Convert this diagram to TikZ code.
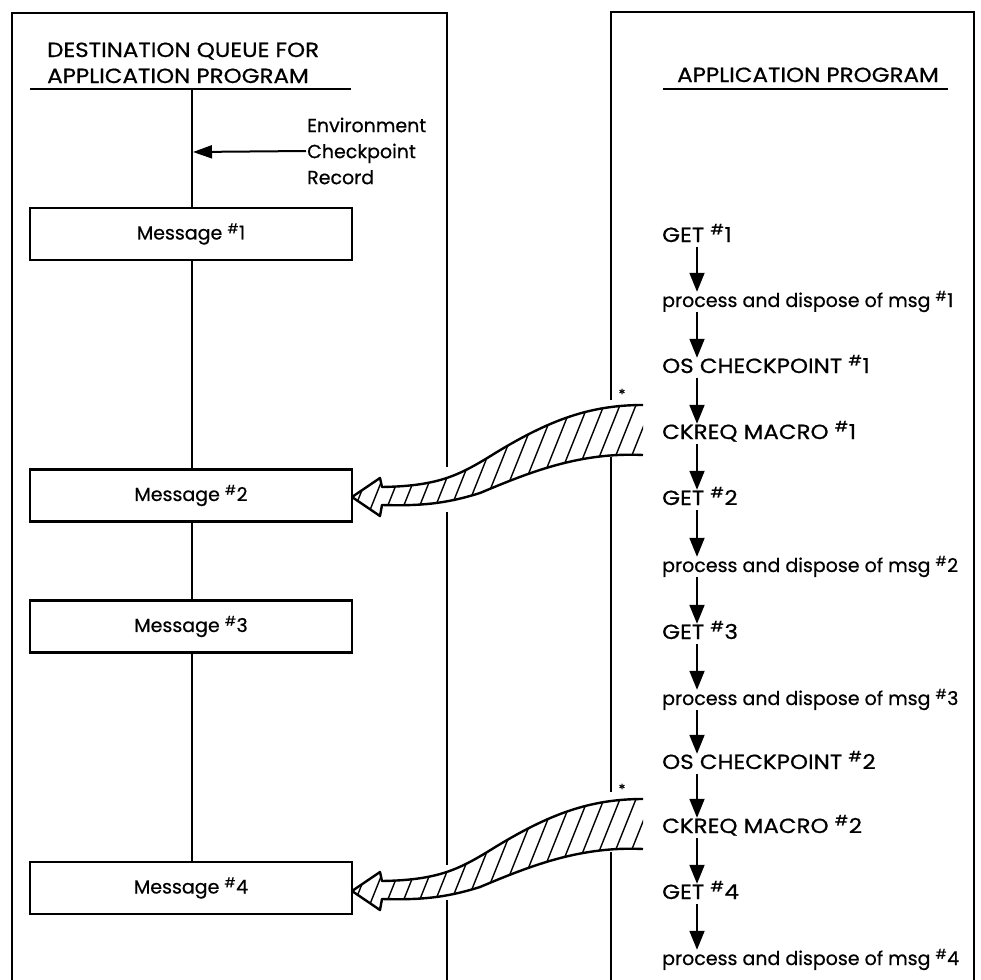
\documentclass[tikz,border=0pt]{standalone}
\usepackage{graphicx}
\usepackage{fontspec}
\setmainfont{Poppins}[FakeBold=0.6]
\usetikzlibrary{arrows.meta}
\newcommand\ft{\fontsize{19}{26}\selectfont}
\newcommand\hs[1]{\textsuperscript{\#}#1}
\newcommand\cp[1]{\scalebox{1.12}[1]{\fontsize{20.5}{26}\selectfont #1}}
\newcommand\drawband[1]{%
  \begin{scope}[shift={(0,#1)}]
    \begin{scope}
      \clip (643,405) .. controls (590,405) and (550,420) .. (497,452)
            .. controls (460,475) and (440,486) .. (382,487)
            -- (380,478) -- (352,497) -- (380,516) -- (382,505)
            .. controls (420,506) and (445,504) .. (480,493)
            .. controls (530,472) and (580,452) .. (643,455) -- cycle;
      \foreach \x in {270,286,...,700} \draw[hatch] (\x,560) -- ++(72,-180);
    \end{scope}
    \draw[bandline] (643,405) .. controls (590,405) and (550,420) .. (497,452)
            .. controls (460,475) and (440,486) .. (382,487)
            -- (380,478) -- (352,497) -- (380,516) -- (382,505)
            .. controls (420,506) and (445,504) .. (480,493)
            .. controls (530,472) and (580,452) .. (643,455);
  \end{scope}}
\begin{document}
\begin{tikzpicture}[x=1pt,y=-1pt,
  panel/.style={line width=2pt},
  qline/.style={line width=2pt},
  msgbox/.style={draw,line width=2.2pt,minimum width=322pt,minimum height=52pt,inner sep=0pt,font=\ft},
  flowtxt/.style={anchor=base west,inner sep=0pt,text height=15pt,text depth=5pt,font=\ft},
  hdr/.style={anchor=base west,inner sep=0pt,font=\ft},
  flowarr/.style={line width=1.8pt,-{Triangle[length=19pt,width=15pt]}},
  envarr/.style={line width=2pt,-{Triangle[length=19pt,width=13pt]}},
  hatch/.style={line width=1.4pt},
  bandline/.style={line width=2.4pt,line join=round}]
\useasboundingbox (0,0) rectangle (980,980);
% panels
\draw[panel] (12,980) -- (12,13) -- (447,13) -- (447,467);
\draw[panel] (447,512) -- (447,865);
\draw[panel] (447,900) -- (447,980);
\draw[panel] (611,400) -- (611,12) -- (974,12) -- (974,980);
\draw[panel] (611,457) -- (611,792);
\draw[panel] (611,852) -- (611,980);
% headers
\node[hdr] (h1) at (47,57) {\cp{DESTINATION QUEUE FOR}};
\node[hdr] (h2) at (47,83) {\cp{APPLICATION PROGRAM}};
\draw[panel] (30,89) -- (351,89);
\node[hdr] (h3) at (677,82) {\cp{APPLICATION PROGRAM}};
\draw[panel] (663,89) -- (948,89);
% queue
\coordinate (q0) at (192,89);
\node[msgbox] (m1) at (191,234) {Message \hs{1}};
\node[msgbox] (m2) at (191,495.5) {Message \hs{2}};
\node[msgbox] (m3) at (191,626.5) {Message \hs{3}};
\node[msgbox] (m4) at (191,888) {Message \hs{4}};
\draw[qline] (q0) -- (q0 |- m1.north);
\draw[qline] (m1.south -| q0) -- (m2.north -| q0);
\draw[qline] (m2.south -| q0) -- (m3.north -| q0);
\draw[qline] (m3.south -| q0) -- (m4.north -| q0);
% environment checkpoint record
\node[anchor=west,align=left,inner sep=1pt,font=\ft] (env) at (306,151) {Environment\\Checkpoint\\Record};
\coordinate (envtip) at (193,152);
\draw[envarr] (env.west) -- (envtip);
% application program flow
\coordinate (ax) at (697,0);
\node[flowtxt] (g1) at (662,242) {\cp{GET \hs{1}}};
\node[flowtxt] (p1) at (662,307) {process and dispose of msg \hs{1}};
\node[flowtxt] (o1) at (662,373) {\cp{OS CHECKPOINT \hs{1}}};
\node[flowtxt] (c1) at (662,439) {\cp{CKREQ MACRO \hs{1}}};
\node[flowtxt] (g2) at (662,505) {\cp{GET \hs{2}}};
\node[flowtxt] (p2) at (662,572) {process and dispose of msg \hs{2}};
\node[flowtxt] (g3) at (662,639) {\cp{GET \hs{3}}};
\node[flowtxt] (p3) at (662,705) {process and dispose of msg \hs{3}};
\node[flowtxt] (o2) at (662,769) {\cp{OS CHECKPOINT \hs{2}}};
\node[flowtxt] (c2) at (662,833) {\cp{CKREQ MACRO \hs{2}}};
\node[flowtxt] (g4) at (662,899) {\cp{GET \hs{4}}};
\node[flowtxt] (p4) at (662,965) {process and dispose of msg \hs{4}};
\foreach \a/\b in {g1/p1,p1/o1,o1/c1,c1/g2,g2/p2,p2/g3,g3/p3,p3/o2,o2/c2,c2/g4,g4/p4}
  \draw[flowarr] (\a.south -| ax) -- (\b.north -| ax);
% checkpoint request bands
\drawband{0}
\drawband{394}
\node[inner sep=0pt,font=\fontsize{14}{14}\selectfont] (ast1) at (622,394) {*};
\node[inner sep=0pt,font=\fontsize{14}{14}\selectfont] (ast2) at (622,789) {*};
\end{tikzpicture}
\end{document}
